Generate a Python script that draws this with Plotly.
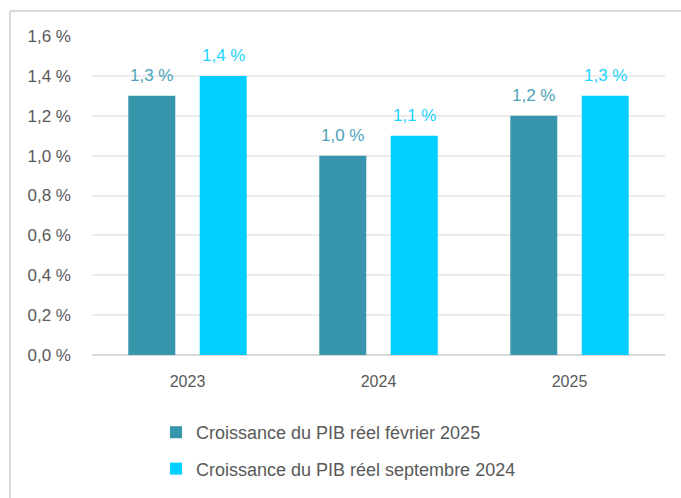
import plotly.graph_objects as go

categories = ["2023", "2024", "2025"]
series_names = ["Croissance du PIB réel février 2025", "Croissance du PIB réel septembre 2024"]
values_feb2025 = [1.3, 1.0, 1.2]
values_sep2024 = [1.4, 1.1, 1.3]
tick_vals = [0.0, 0.2, 0.4, 0.6, 0.8, 1.0, 1.2, 1.4, 1.6]
tick_text = ["0,0 %", "0,2 %", "0,4 %", "0,6 %", "0,8 %", "1,0 %", "1,2 %", "1,4 %", "1,6 %"]

dark = "#3795AC"
light = "#00CFFF"
dark_lbl = "#4CA3B9"
light_lbl = "#22D3FF"
font_family = "Liberation Sans, Arial"

def fmt(v):
    return f"{v:.1f}".replace(".", ",") + " %"

xpos = list(range(len(categories)))
bar_w = 0.246
off = 0.187

fig = go.Figure()
series = [(values_feb2025, dark, dark_lbl, -off), (values_sep2024, light, light_lbl, off)]
for k, (vals, col, lcol, o) in enumerate(series):
    fig.add_trace(go.Bar(
        x=xpos, y=vals, name=series_names[k], legendgroup=str(k),
        marker=dict(color=col, line=dict(width=0)),
        width=bar_w, offset=o - bar_w / 2,
    ))
    for xi, v in zip(xpos, vals):
        fig.add_annotation(
            x=xi + o, y=v, text=fmt(v), showarrow=False,
            yanchor="bottom", yshift=9, xanchor="center",
            font=dict(color=lcol, size=17, family=font_family),
        )

L, R, T, B = 92, 16, 36, 143
W, H = 681, 498
pw = W - L - R
ph = H - T - B

fig.update_layout(
    width=W, height=H,
    margin=dict(l=L, r=R, t=T, b=B, autoexpand=False),
    paper_bgcolor="white", plot_bgcolor="white",
    barmode="overlay",
    font=dict(family=font_family, size=16, color="#595959"),
    showlegend=True,
    legend=dict(
        orientation="v", x=(156 - L) / pw, xanchor="left", y=-(59) / ph, yanchor="top",
        font=dict(size=18, color="#595959", family=font_family),
        tracegroupgap=10, itemwidth=30,
    ),
    xaxis=dict(
        range=[-0.5, 2.5], tickvals=xpos, ticktext=categories,
        showgrid=False, zeroline=False, showline=False,
        ticks="", tickfont=dict(size=16, color="#595959"),
        ticklabelstandoff=15,
    ),
    yaxis=dict(
        range=[0, 1.6], tickvals=tick_vals, ticktext=tick_text,
        showgrid=True, gridcolor="#EBEBEB", gridwidth=1.5,
        zeroline=True, zerolinecolor="#D9D9D9", zerolinewidth=2,
        showline=False, ticks="", ticklabelstandoff=20,
        tickfont=dict(size=17, color="#595959"),
    ),
    shapes=[
        dict(type="line", xref="paper", yref="paper",
             x0=(10 - L) / pw, x1=(W + 5 - L) / pw,
             y0=1 + (T - 11) / ph, y1=1 + (T - 11) / ph,
             line=dict(color="#D9D9D9", width=2)),
        dict(type="line", xref="paper", yref="paper",
             x0=(10 - L) / pw, x1=(10 - L) / pw,
             y0=1 + (T - 11) / ph, y1=-(B + 5) / ph,
             line=dict(color="#D9D9D9", width=2)),
    ],
)

fig.write_html("out.html")
